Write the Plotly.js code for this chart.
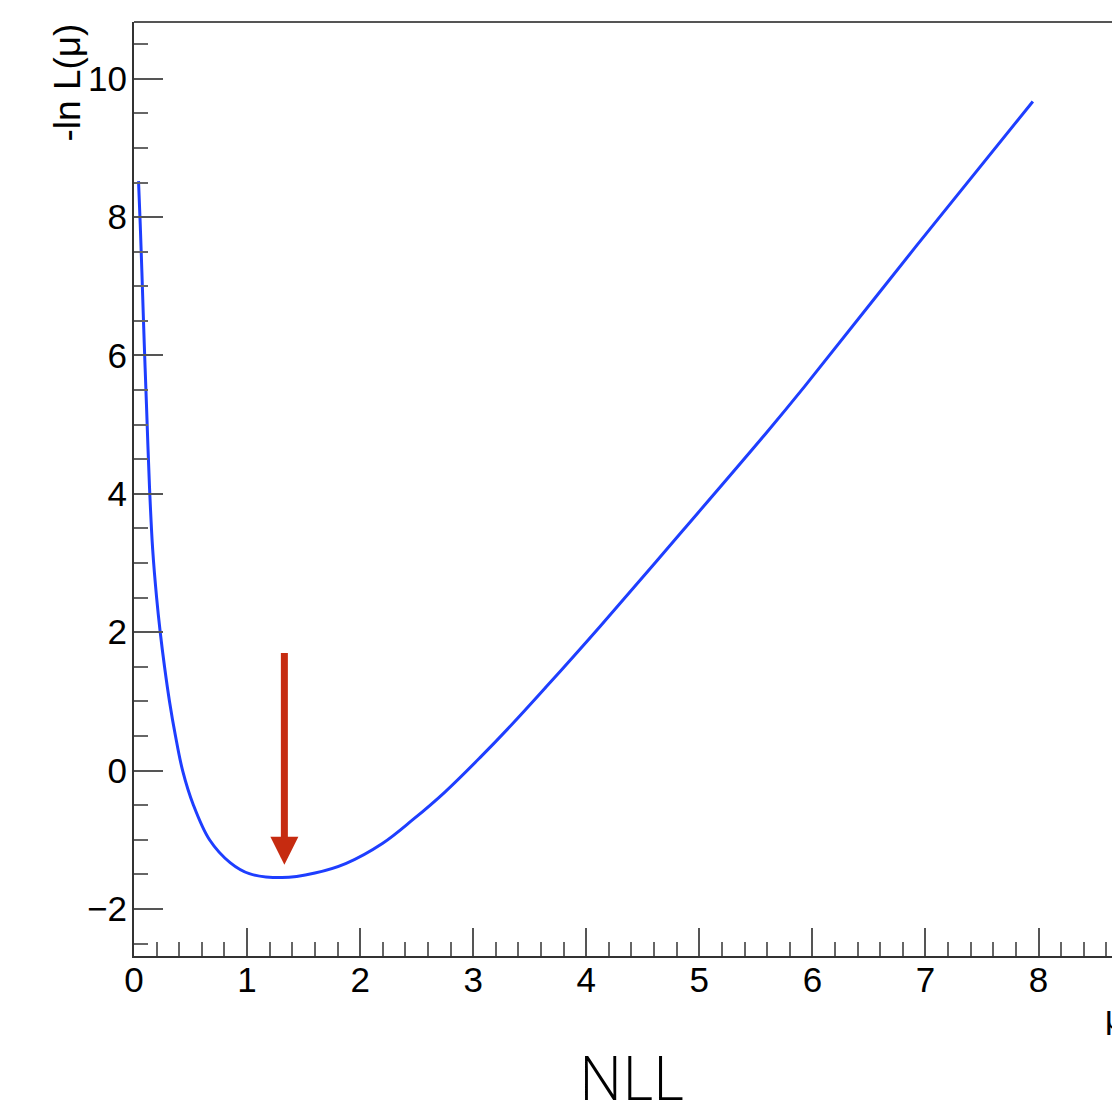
<!DOCTYPE html>
<html>
<head>
<meta charset="utf-8">
<script src="https://cdn.plot.ly/plotly-3.0.1.min.js"></script>
<style>
html,body{margin:0;padding:0;background:#fff;}
#plot{width:1112px;height:1103px;}
</style>
</head>
<body>
<div id="plot"></div>
<script>
// Curve -ln L(mu)
const mu = [0.04, 0.055, 0.07, 0.09, 0.11, 0.137, 0.165, 0.2, 0.232, 0.27, 0.314, 0.367, 0.43, 0.526, 0.668, 0.85, 1.02, 1.31, 1.6, 1.877, 2.2, 2.466, 2.75, 3.056, 3.35, 3.646, 4.12, 4.854, 5.592, 5.93, 6.918, 7.95];
const nll = [8.52, 7.9, 7.2, 6.2, 5.3, 4.1, 3.2, 2.5, 2.0, 1.5, 1.0, 0.5, 0.0, -0.5, -1.0, -1.33, -1.49, -1.547, -1.48, -1.34, -1.05, -0.71, -0.31, 0.18, 0.68, 1.21, 2.08, 3.47, 4.88, 5.55, 7.58, 9.67];

// Arrow marking the minimum
const arrowMu = 1.33;
const arrowFrom = 1.72;
const arrowTo = -1.36;

const xTitle = "μ";
const yTitle = "-ln L(μ)";
const caption = "NLL";

const axisFont = {family: "Liberation Sans, Arial, sans-serif", size: 35, color: "#000"};

const trace = {
  x: mu, y: nll, type: "scatter", mode: "lines",
  line: {color: "rgb(30,62,255)", width: 3, shape: "spline", smoothing: 1},
  hoverinfo: "skip", showlegend: false
};

const layout = {
  width: 1112, height: 1103,
  margin: {l: 134, r: 0, t: 22, b: 147, pad: 0},
  paper_bgcolor: "#fff", plot_bgcolor: "#fff",
  showlegend: false,
  xaxis: {
    range: [0, 8.65], tick0: 0, dtick: 1,
    ticks: "inside", ticklen: 28, tickwidth: 2, tickcolor: "#555",
    showline: true, linecolor: "#333", linewidth: 2,
    showgrid: false, zeroline: false,
    tickfont: axisFont, ticklabelstandoff: -8,
    minor: {dtick: 0.2, ticks: "inside", ticklen: 14, tickwidth: 2, tickcolor: "#666", showgrid: false}
  },
  yaxis: {
    range: [-2.68, 10.82], tick0: 0, dtick: 2,
    ticks: "inside", ticklen: 29, tickwidth: 2, tickcolor: "#555",
    showline: true, linecolor: "#333", linewidth: 2,
    showgrid: false, zeroline: false,
    tickfont: axisFont, ticklabelstandoff: -2,
    minor: {dtick: 0.5, ticks: "inside", ticklen: 14, tickwidth: 2, tickcolor: "#666", showgrid: false}
  },
  shapes: [
    {type: "line", xref: "paper", yref: "paper", x0: 0, x1: 1, y0: 1, y1: 1,
     line: {color: "#555", width: 2}}
  ],
  annotations: [
    {x: arrowMu, y: arrowTo, ax: arrowMu, ay: arrowFrom, xref: "x", yref: "y", axref: "x", ayref: "y",
     text: "", showarrow: true, arrowhead: 2, arrowsize: 0.8, arrowwidth: 7, arrowcolor: "#c62b10"},
    {text: yTitle, textangle: -90, xref: "paper", yref: "paper",
     x: -0.069, y: 1.0, xanchor: "center", yanchor: "top", showarrow: false,
     font: {family: "Liberation Sans, Arial, sans-serif", size: 37, color: "#000"}},
    {text: xTitle, xref: "paper", yref: "paper",
     x: 0.991, y: -0.043, xanchor: "left", yanchor: "top", showarrow: false,
     font: {family: "Liberation Sans, Arial, sans-serif", size: 34, color: "#000"}},
    {text: caption, xref: "paper", yref: "paper",
     x: (631 - 134) / 978, y: -0.13, xanchor: "center", yanchor: "middle", showarrow: false,
     font: {family: "Open Sans, sans-serif", size: 60, weight: 300, color: "#000"}}
  ]
};

Plotly.newPlot("plot", [trace], layout, {staticPlot: true, displayModeBar: false});
</script>
</body>
</html>
